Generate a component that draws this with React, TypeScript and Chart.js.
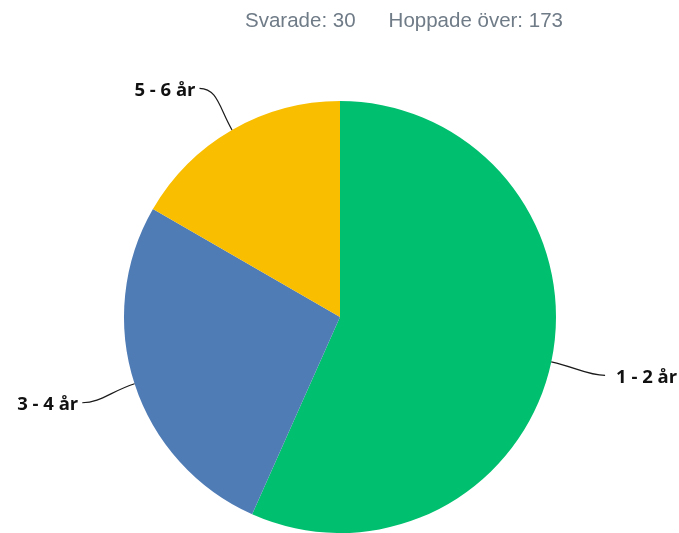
import React, { useEffect, useRef } from "react";
import { Chart, registerables } from "chart.js";

Chart.register(...registerables);

const categories = ["1 - 2 år", "3 - 4 år", "5 - 6 år"];
const answers = [17, 8, 5];
const colors = ["#00BF6F", "#507CB6", "#F9BE00"];
const answeredLabel = "Svarade: 30";
const skippedLabel = "Hoppade över: 173";

const W = 679;
const H = 533;
const CANVAS_H = 560;

const labelPlugin = {
  id: "outsideLabels",
  afterDraw(chart: any) {
    const ctx = chart.ctx as CanvasRenderingContext2D;
    // header
    ctx.save();
    ctx.font = '20.5px "Liberation Sans", Arial, sans-serif';
    ctx.fillStyle = "#6F7B87";
    ctx.textBaseline = "alphabetic";
    ctx.textAlign = "left";
    const w1 = ctx.measureText(answeredLabel).width;
    const w2 = ctx.measureText(skippedLabel).width;
    const gap = 33;
    const total = w1 + gap + w2;
    const sx = 404 - total / 2;
    ctx.fillText(answeredLabel, sx, 27);
    ctx.fillText(skippedLabel, sx + w1 + gap, 27);
    ctx.restore();

    const meta = chart.getDatasetMeta(0);
    meta.data.forEach((arc: any, i: number) => {
      const { x, y, startAngle, endAngle, outerRadius } = arc.getProps(
        ["x", "y", "startAngle", "endAngle", "outerRadius"],
        true
      );
      const mid = (startAngle + endAngle) / 2;
      const dx = Math.cos(mid);
      const dy = Math.sin(mid);
      const sxp = x + outerRadius * dx;
      const syp = y + outerRadius * dy;
      const ext = 55;
      const right = dx >= 0;
      const ex = x + (outerRadius + ext) * dx - (dy < 0 ? 5 : 0);
      const ey = y + (outerRadius + ext) * dy + (dy < 0 ? 6 : 2);
      const c1x = sxp + dx * 25;
      const c1y = syp + dy * 25;
      const c2x = ex + (right ? -18 : 18);
      const c2y = ey;
      ctx.save();
      ctx.strokeStyle = "#1a1a1a";
      ctx.lineWidth = 1.2;
      ctx.beginPath();
      ctx.moveTo(sxp, syp);
      ctx.bezierCurveTo(c1x, c1y, c2x, c2y, ex, ey);
      ctx.stroke();
      ctx.font = 'bold 18.5px "Open Sans", sans-serif';
      ctx.fillStyle = "#111111";
      ctx.textBaseline = "middle";
      ctx.textAlign = right ? "left" : "right";
      ctx.fillText(categories[i], right ? ex + 11 : ex - 4, ey + 2);
      ctx.restore();
    });
  },
};

export default function App() {
  const ref = useRef<HTMLCanvasElement | null>(null);
  useEffect(() => {
    if (!ref.current) return;
    const chart = new Chart(ref.current, {
      type: "pie",
      data: {
        labels: categories,
        datasets: [
          {
            data: answers,
            backgroundColor: colors,
            borderWidth: 0,
          },
        ],
      },
      options: {
        animation: false,
        responsive: false,
        maintainAspectRatio: false,
        events: [],
        layout: {
          padding: { left: 124, right: W - 556, top: 101, bottom: CANVAS_H - 533 },
        },
        plugins: {
          legend: { display: false },
          tooltip: { enabled: false },
          title: { display: false },
        },
      },
      plugins: [labelPlugin],
    });
    return () => chart.destroy();
  }, []);
  return (
    <div
      style={{
        position: "absolute",
        left: 0,
        top: 0,
        width: W,
        height: H,
        overflow: "hidden",
        background: "#fff",
      }}
    >
      <canvas ref={ref} width={W} height={CANVAS_H} style={{ display: "block" }} />
    </div>
  );
}
